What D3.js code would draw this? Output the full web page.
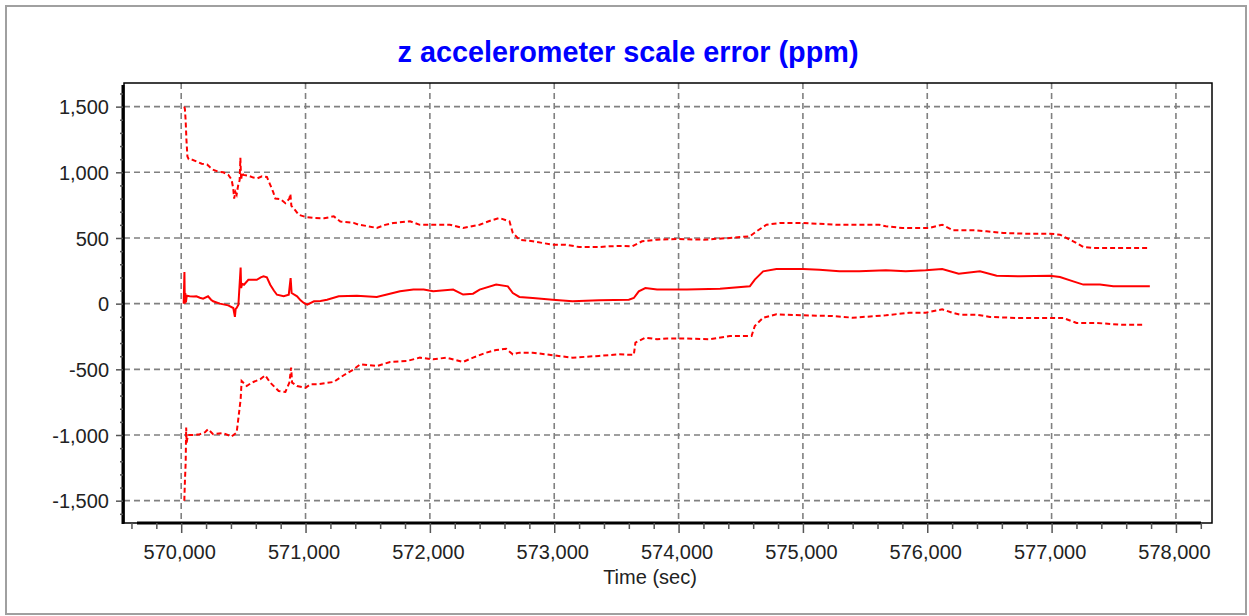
<!DOCTYPE html>
<html>
<head>
<meta charset="utf-8">
<script src="https://cdn.jsdelivr.net/npm/d3@7"></script>
<style>
  html, body { margin: 0; padding: 0; background: #fff; }
  svg { display: block; font-family: "Liberation Sans", Arial, sans-serif; }
</style>
</head>
<body>
<svg id="chart" width="1249" height="616"></svg>
<script>
// time (sec) / scale error (ppm)
const upperBound = [
  [570025, 1500], [570030, 1480], [570036, 1390], [570042, 1250], [570050, 1120], [570060, 1100],
  [570090, 1095], [570130, 1080], [570165, 1065], [570208, 1060], [570230, 1040], [570260, 1018],
  [570300, 1005], [570338, 1000], [570378, 982], [570405, 945], [570418, 880], [570426, 800],
  [570436, 850], [570446, 830], [570458, 900], [570470, 940], [570476, 1110], [570482, 940],
  [570490, 1000], [570500, 980], [570540, 975], [570580, 960], [570614, 955], [570650, 970],
  [570689, 965], [570716, 905], [570740, 850], [570757, 800], [570800, 795], [570838, 765],
  [570870, 800], [570878, 835], [570886, 745], [570910, 720], [570946, 676], [571000, 660],
  [571067, 652], [571150, 650], [571227, 665], [571280, 625], [571387, 615], [571427, 601],
  [571500, 590], [571573, 576], [571640, 600], [571707, 614], [571840, 627], [571920, 600],
  [572027, 601], [572160, 601], [572267, 576], [572400, 601], [572493, 634], [572560, 652],
  [572640, 627], [572667, 538], [572720, 487], [572827, 475], [572987, 449], [573093, 449],
  [573200, 431], [573360, 431], [573440, 437], [573560, 440], [573627, 437], [573707, 475],
  [573827, 487], [574000, 492], [574200, 487], [574413, 500], [574573, 513], [574627, 551],
  [574707, 601], [574813, 614], [575000, 614], [575267, 601], [575613, 601], [575667, 589],
  [575800, 576], [576013, 576], [576120, 601], [576210, 558], [576397, 558], [576477, 551],
  [576611, 538], [576772, 533], [576987, 533], [577067, 525], [577174, 475], [577255, 431],
  [577335, 424], [577496, 424], [577683, 424], [577790, 424]
];

const scaleError = [
  [570020, 0], [570026, 240], [570029, 0], [570033, 80], [570038, 10], [570045, 60],
  [570068, 56], [570100, 55], [570122, 56], [570150, 45], [570176, 38], [570216, 56],
  [570240, 30], [570257, 18], [570311, 0], [570378, -13], [570419, -33], [570426, -70],
  [570432, -100], [570438, -40], [570446, -33], [570460, -8], [570472, 180], [570478, 275],
  [570482, 120], [570490, 150], [570505, 144], [570540, 182], [570608, 182], [570640, 200],
  [570662, 208], [570689, 200], [570716, 144], [570745, 100], [570770, 68], [570824, 56],
  [570865, 68], [570880, 195], [570888, 81], [570932, 56], [570960, 25], [570986, 5],
  [571014, -8], [571068, 18], [571120, 20], [571173, 30], [571267, 56], [571413, 61],
  [571573, 51], [571760, 94], [571867, 107], [571950, 107], [572027, 94], [572187, 107],
  [572267, 69], [572347, 76], [572400, 107], [572533, 145], [572627, 132], [572667, 81],
  [572720, 51], [572827, 43], [572987, 30], [573147, 18], [573360, 25], [573600, 30],
  [573640, 43], [573680, 94], [573733, 119], [573827, 107], [574067, 107], [574333, 114],
  [574573, 132], [574613, 183], [574680, 246], [574787, 264], [575000, 264], [575133, 259],
  [575293, 246], [575453, 246], [575667, 254], [575827, 246], [575987, 254], [576120, 264],
  [576253, 228], [576424, 246], [576558, 213], [576745, 208], [576987, 213], [577067, 203],
  [577174, 170], [577255, 145], [577389, 145], [577496, 132], [577790, 132]
];

const lowerBound = [
  [570025, -1500], [570030, -1350], [570036, -1209], [570040, -943], [570044, -1057], [570054, -1001],
  [570100, -1000], [570149, -994], [570190, -980], [570216, -956], [570257, -994], [570338, -986],
  [570405, -1011], [570446, -981], [570459, -880], [570478, -728], [570486, -589], [570527, -627],
  [570568, -601], [570635, -576], [570676, -546], [570716, -601], [570784, -665], [570838, -672],
  [570870, -601], [570884, -487], [570892, -601], [570932, -627], [571000, -640], [571040, -614],
  [571095, -614], [571227, -596], [571307, -545], [571387, -500], [571440, -462], [571573, -475],
  [571680, -444], [571813, -437], [571920, -411], [572027, -424], [572133, -411], [572267, -444],
  [572347, -411], [572453, -373], [572533, -353], [572613, -343], [572667, -386], [572720, -373],
  [572827, -373], [572987, -393], [573147, -411], [573360, -398], [573520, -386], [573640, -390],
  [573653, -297], [573733, -259], [573827, -271], [573907, -266], [574067, -266], [574253, -271],
  [574413, -246], [574587, -246], [574613, -170], [574680, -107], [574787, -81], [575000, -89],
  [575240, -94], [575400, -107], [575667, -89], [575853, -69], [575987, -69], [576120, -43],
  [576200, -69], [576263, -84], [576397, -84], [576504, -101], [576719, -109], [577094, -109],
  [577201, -147], [577362, -147], [577549, -160], [577750, -160]
];

const xTicks = [570000, 571000, 572000, 573000, 574000, 575000, 576000, 577000, 578000];
const yTicks = [-1500, -1000, -500, 0, 500, 1000, 1500];

const titleText = 'z accelerometer scale error (ppm)';
const xLabel = 'Time (sec)';

const plot = { left: 124, top: 83, right: 1212, bottom: 523 };

const svg = d3.select('#chart');

const x = d3.scaleLinear().domain([569540, 578290]).range([plot.left, plot.right]);
const y = d3.scaleLinear().domain([-1670, 1680]).range([plot.bottom, plot.top]);

const fmt = d3.formatLocale({ decimal: '.', thousands: ',', grouping: [3], currency: ['', ''], minus: '-' }).format(',');

// outer border
svg.append('rect')
  .attr('x', 6).attr('y', 6)
  .attr('width', 1240).attr('height', 608)
  .attr('fill', '#fff')
  .attr('stroke', '#a0a0a0')
  .attr('stroke-width', 2);

svg.append('text')
  .attr('x', 628).attr('y', 62)
  .attr('text-anchor', 'middle')
  .attr('font-size', 28.8)
  .attr('font-weight', 'bold')
  .attr('fill', '#0000ff')
  .text(titleText);

// grid
const grid = svg.append('g')
  .attr('stroke', '#808080')
  .attr('stroke-width', 1.6)
  .attr('stroke-dasharray', '6,4');

grid.selectAll('.gx')
  .data(xTicks)
  .enter()
  .append('line')
  .attr('x1', d => x(d)).attr('x2', d => x(d))
  .attr('y1', plot.top).attr('y2', plot.bottom);

grid.selectAll('.gy')
  .data(yTicks)
  .enter()
  .append('line')
  .attr('x1', plot.left).attr('x2', plot.right)
  .attr('y1', d => y(d)).attr('y2', d => y(d));

// series
svg.append('clipPath').attr('id', 'clip')
  .append('rect')
  .attr('x', plot.left).attr('y', plot.top)
  .attr('width', plot.right - plot.left).attr('height', plot.bottom - plot.top);

const line = d3.line().x(d => x(d[0])).y(d => y(d[1]));

const series = [
  { data: upperBound, dash: '5,3' },
  { data: scaleError, dash: null },
  { data: lowerBound, dash: '5,3' }
];

svg.append('g')
  .attr('clip-path', 'url(#clip)')
  .selectAll('path')
  .data(series)
  .enter()
  .append('path')
  .attr('d', d => line(d.data))
  .attr('fill', 'none')
  .attr('stroke', '#ff0000')
  .attr('stroke-width', 2)
  .attr('stroke-dasharray', d => d.dash);

// frame
svg.append('rect')
  .attr('x', plot.left).attr('y', plot.top)
  .attr('width', plot.right - plot.left).attr('height', plot.bottom - plot.top)
  .attr('fill', 'none')
  .attr('stroke', '#000')
  .attr('stroke-width', 1.5);

svg.append('line')
  .attr('x1', plot.left - 1).attr('x2', plot.left - 1)
  .attr('y1', plot.top + 2).attr('y2', plot.bottom + 1)
  .attr('stroke', '#000').attr('stroke-width', 3);

svg.append('line')
  .attr('x1', 137).attr('x2', 1201)
  .attr('y1', plot.bottom).attr('y2', plot.bottom)
  .attr('stroke', '#000').attr('stroke-width', 3);

// axes
const minorX = d3.range(569600, 578290, 200).filter(v => v % 1000 !== 0);
const minorY = d3.range(-1600, 1680, 100).filter(v => v % 500 !== 0);

function styleAxis(g) {
  g.select('.domain').remove();
  g.selectAll('line').attr('stroke', '#555').attr('stroke-width', 1.5);
  g.selectAll('text')
    .attr('font-size', 20)
    .attr('font-family', '"Liberation Sans", Arial, sans-serif')
    .attr('fill', '#222');
}

svg.append('g')
  .attr('transform', `translate(${plot.left - 1},0)`)
  .call(d3.axisLeft(y).tickValues(minorY).tickSize(3).tickFormat(''))
  .call(styleAxis);

svg.append('g')
  .attr('transform', `translate(${plot.left - 1},0)`)
  .call(d3.axisLeft(y).tickValues(yTicks).tickSize(7).tickPadding(7).tickFormat(fmt))
  .call(styleAxis)
  .selectAll('text').attr('dy', '0.36em');

svg.append('g')
  .attr('transform', `translate(0,${plot.bottom})`)
  .call(d3.axisBottom(x).tickValues(minorX).tickSize(6).tickFormat(''))
  .call(styleAxis);

svg.append('g')
  .attr('transform', `translate(0,${plot.bottom})`)
  .call(d3.axisBottom(x).tickValues(xTicks).tickSize(10).tickPadding(12).tickFormat(fmt))
  .call(styleAxis)
  .selectAll('text').attr('dx', '-2');

svg.append('text')
  .attr('x', 650).attr('y', 584)
  .attr('text-anchor', 'middle')
  .attr('font-size', 20)
  .attr('fill', '#222')
  .text(xLabel);
</script>
</body>
</html>
